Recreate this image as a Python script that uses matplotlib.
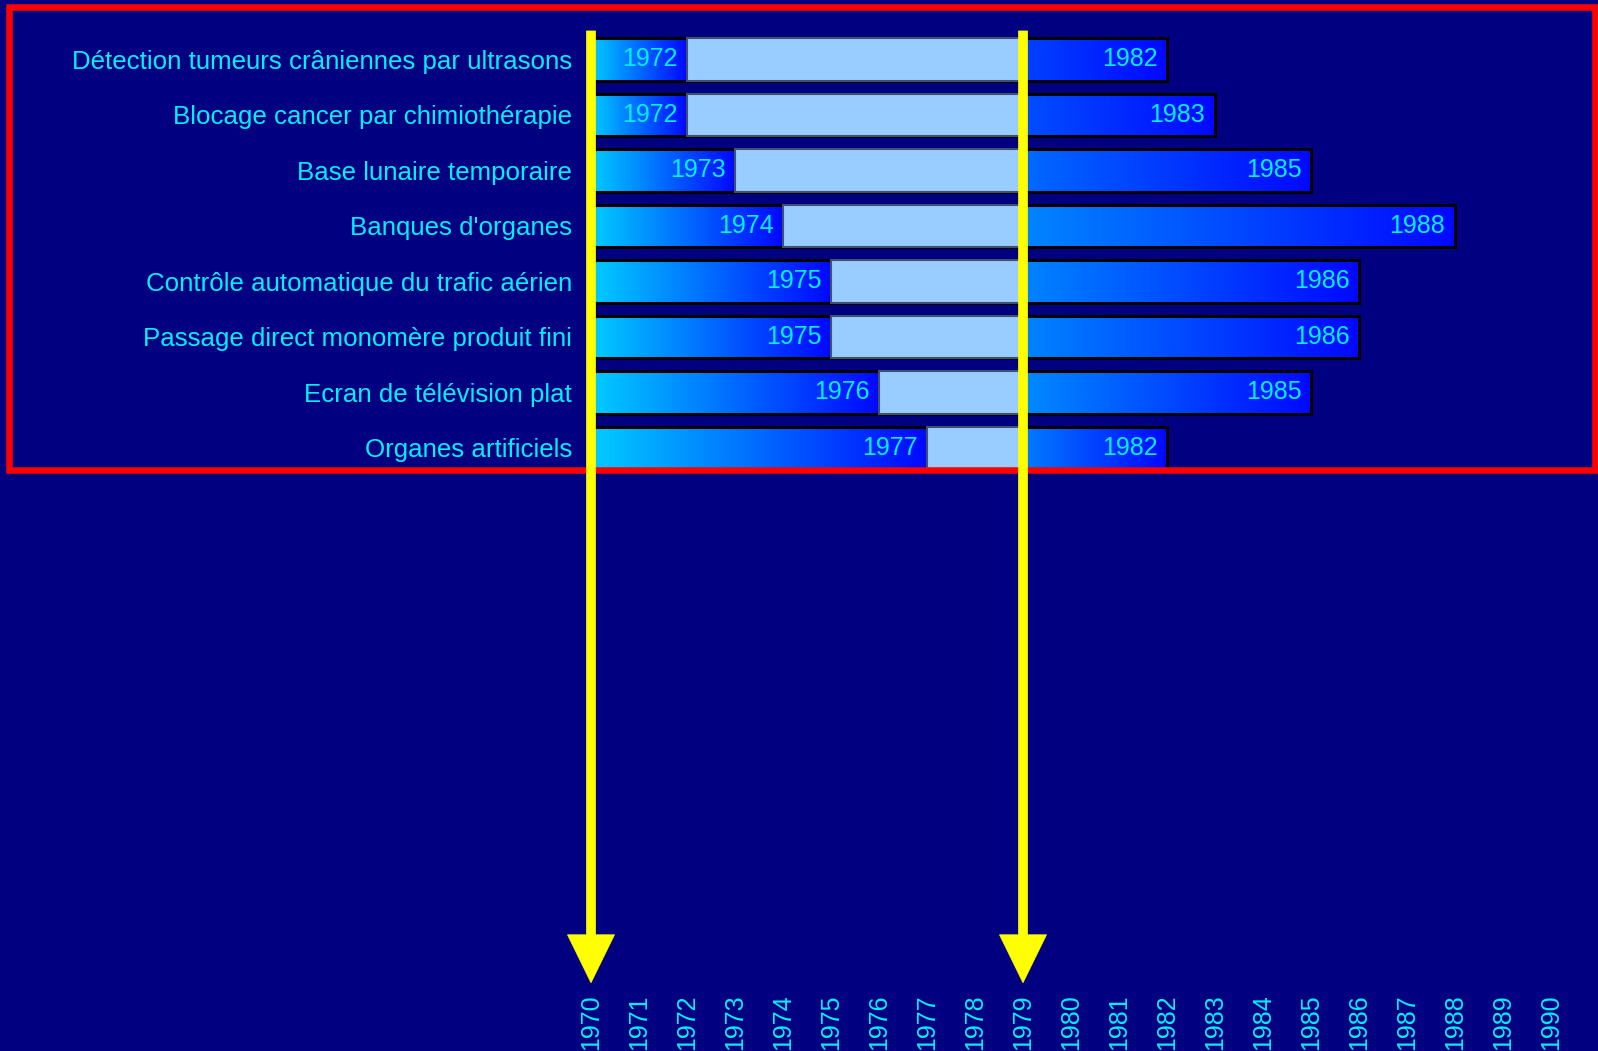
import matplotlib.pyplot as plt
import numpy as np
from matplotlib.colors import LinearSegmentedColormap
from matplotlib.patches import Rectangle, FancyArrow

plt.rcParams['font.family'] = ['Liberation Sans', 'DejaVu Sans']

# data
projets = ['Détection tumeurs crâniennes par ultrasons',
           'Blocage cancer par chimiothérapie',
           'Base lunaire temporaire',
           "Banques d'organes",
           'Contrôle automatique du trafic aérien',
           'Passage direct monomère produit fini',
           'Ecran de télévision plat',
           'Organes artificiels']
debut = [1972, 1972, 1973, 1974, 1975, 1975, 1976, 1977]
fin = [1982, 1983, 1985, 1988, 1986, 1986, 1985, 1982]
annees = list(range(1970, 1991))
origine = 1970
reperes = [1970, 1979]

fond = '#000080'
cyan = '#00f0ff'

fig = plt.figure(figsize=(15.98, 10.51), dpi=100, facecolor=fond)
ax = fig.add_axes([591 / 1598, 1 - 994 / 1051, 1 - 591 / 1598, 994 / 1051])
ax.set_facecolor(fond)

cmap = LinearSegmentedColormap.from_list('bleu', ['#00ccff', '#0008ff'])
grad = np.linspace(0, 1, 256).reshape(1, -1)
h = 0.8
h2 = 0.76

for i, (d, f) in enumerate(zip(debut, fin)):
    # part before the start year
    ax.imshow(grad, cmap=cmap, extent=(origine, d, i - h2 / 2, i + h2 / 2),
              aspect='auto', zorder=2)
    ax.add_patch(Rectangle((origine, i - h2 / 2), d - origine, h2, fill=False,
                           ec='black', lw=2.2, zorder=2.1))
    # start -> end
    ax.imshow(grad, cmap=cmap, extent=(d, f, i - h / 2 + 0.02, i + h2 / 2),
              aspect='auto', zorder=2)
    ax.add_patch(Rectangle((d, i - h / 2 + 0.02), f - d, h2 / 2 + h / 2 - 0.02,
                           fill=False, ec='black', lw=2.2, zorder=2.1))
    # light part until the second marker
    ax.add_patch(Rectangle((d, i - h2 / 2), reperes[1] - d, h2, fc='#99ccff',
                           ec='#405070', lw=1.5, zorder=2.5))
    ax.annotate(str(d), xy=(d, i), xytext=(-7, 0), textcoords='offset points',
                ha='right', va='center', color=cyan, fontsize=18, zorder=3)
    ax.annotate(str(f), xy=(f, i), xytext=(-7, 0), textcoords='offset points',
                ha='right', va='center', color=cyan, fontsize=18, zorder=3)

# yellow arrows
for r in reperes:
    ax.add_patch(FancyArrow(r, -0.514, 0, 17.15, width=0.19, head_width=0.98,
                            head_length=0.865, length_includes_head=True,
                            fc='yellow', ec='yellow', lw=0.5, zorder=5,
                            clip_on=False))

# red frame
ax.add_patch(Rectangle((9 / 1598, 1 - 470 / 1051), 1586 / 1598, 463 / 1051,
                       transform=fig.transFigure, fill=False, ec='red', lw=4.7,
                       zorder=4, clip_on=False))

ax.set_yticks(range(len(projets)), projets, fontsize=18.6, color=cyan)
ax.set_xticks(annees, [str(a) for a in annees], rotation=90, fontsize=18,
              color=cyan)
ax.tick_params(axis='y', length=0, pad=13.7)
ax.tick_params(axis='x', length=0, pad=0)
for s in ax.spines.values():
    s.set_visible(False)

ax.set_xlim(origine, origine + (1598 - 591) / 48)
ax.set_ylim(16.838, -1.072)

fig.savefig('out.png', dpi=100, facecolor=fond)
